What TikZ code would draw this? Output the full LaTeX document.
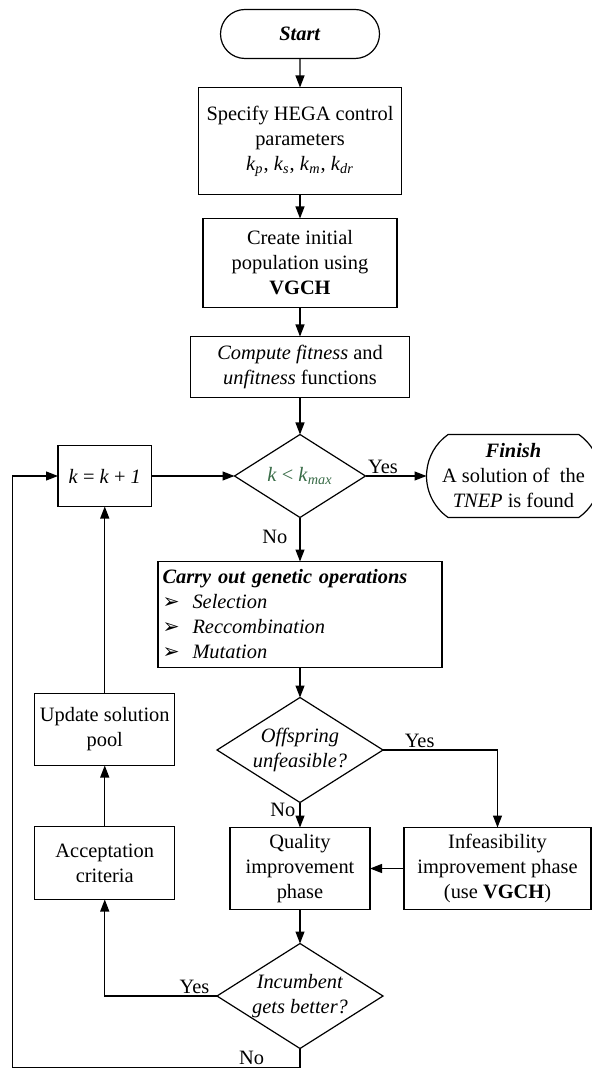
\documentclass[tikz,border=0pt]{standalone}
\usepackage{fontspec}
\setmainfont{Liberation Serif}
\newfontfamily\symfont{DejaVu Sans}
\usepackage{tikz}
\usetikzlibrary{positioning,shapes.geometric,shapes.misc,arrows.meta}

\definecolor{kgreen}{RGB}{56,107,70}
\newcommand{\nodefont}{\fontsize{10.2}{12.5}\selectfont}
\newcommand{\itm}[1]{\makebox[15pt][l]{\symfont ➢}\textit{#1}}

\begin{document}
\begin{tikzpicture}[
    base/.style={draw, line width=0.6pt, outer sep=0pt, align=center, font=\nodefont},
    term/.style={base, rounded rectangle, inner sep=2pt},
    proc/.style={base, rectangle, inner sep=2pt},
    decide/.style={base, diamond, aspect=1.58, inner sep=-3pt},
    lbl/.style={font=\nodefont, inner sep=1pt},
    arrow/.style={-{Triangle[length=6pt,width=4.5pt]}, line width=0.6pt}
  ]
            \useasboundingbox (0,0) rectangle (296pt,-534pt);

            \node[term, minimum width=83.5pt, minimum height=24.5pt] (start) at (150pt,-17pt) {\textbf{\textit{Start}}};
            \node[proc, below=14.5pt of start, minimum width=101.5pt, minimum height=53.5pt] (spec)
                {Specify HEGA control\\parameters\\\textit{k}\textsubscript{\textit{p}}, \textit{k}\textsubscript{\textit{s}}, \textit{k}\textsubscript{\textit{m}}, \textit{k}\textsubscript{\textit{dr}}};
            \node[proc, below=12pt of spec, minimum width=97pt, minimum height=44.5pt] (create)
                {Create initial\\population using\\\textbf{VGCH}};
            \node[proc, below=14.5pt of create, minimum width=109.5pt, minimum height=30.5pt] (fitness)
                {\textit{Compute fitness} and\\\textit{unfitness} functions};
            \node[decide, below=18.5pt of fitness, minimum width=65.5pt, minimum height=41.5pt, text=kgreen] (kmax)
                {\textit{k} < \textit{k}\textsubscript{\textit{max}}};
            \node[proc, left=41.5pt of kmax, minimum width=46.75pt, minimum height=30.5pt] (kinc)
                {\textit{k} = \textit{k} + \textit{1}};
            \node[term, right=30.5pt of kmax, minimum width=82.5pt, minimum height=41.5pt, rounded rectangle arc length=110] (finish)
                {\textbf{\textit{Finish}}\\A solution of\ \ the\\\textit{TNEP} is found};
            \node[proc, below=22pt of kmax, minimum width=142pt, minimum height=53pt, text width=137.5pt, align=left, inner xsep=2.25pt, inner ysep=1pt] (genops)
                {\textbf{\textit{Carry out genetic operations}}\\\itm{Selection}\\\itm{Reccombination}\\\itm{Mutation}};
            \node[decide, below=15pt of genops, minimum width=83pt, minimum height=52.5pt] (offsp)
                {\textit{Offspring}\\\textit{unfeasible?}};
            \node[proc, below=12.5pt of offsp, minimum width=70pt, minimum height=41pt] (quality)
                {Quality\\improvement\\phase};
            \node[proc, right=17pt of quality, minimum width=93.5pt, minimum height=41pt] (infeas)
                {Infeasibility\\improvement phase\\(use \textbf{VGCH})};
            \node[decide, below=17pt of quality, minimum width=83pt, minimum height=52.5pt] (incumb)
                {\textit{Incumbent}\\\textit{gets better?}};
            \node[proc, below=93.5pt of kinc, minimum width=70pt, minimum height=36pt] (update)
                {Update solution\\pool};
            \node[proc, below=30.5pt of update, minimum width=70pt, minimum height=36.5pt] (accept)
                {Acceptation\\criteria};

            \draw[arrow] (start) -- (spec);
            \draw[arrow] (spec) -- (create);
            \draw[arrow] (create) -- (fitness);
            \draw[arrow] (fitness) -- (kmax);
            \draw[arrow] (kinc) -- (kmax);
            \draw[arrow] (kmax) -- node[lbl, pos=0, above right] (yes1) {Yes} (finish);
            \draw[arrow] (kmax) -- node[lbl, pos=0.45, left=5pt] (no1) {No} (genops);
            \draw[arrow] (genops) -- (offsp);
            \draw[arrow] (offsp.east) -| node[lbl, pos=0.16, above] (yes2) {Yes} (infeas.north);
            \draw[arrow] (offsp) -- node[lbl, pos=0.3, left=1pt] (no2) {No} (quality);
            \draw[arrow] (infeas) -- (quality);
            \draw[arrow] (quality) -- (incumb);
            \draw[arrow] (incumb.west) -| node[lbl, pos=0.1, above] (yes3) {Yes} (accept.south);
            \draw[arrow] (accept) -- (update);
            \draw[arrow] (update) -- (kinc);
            \draw[arrow] (incumb.south) -- ++(0,-9.5pt) -| node[lbl, pos=0.084, above] (no3) {No} ([xshift=-22.75pt]kinc.west) -- (kinc.west);
\end{tikzpicture}
\end{document}
